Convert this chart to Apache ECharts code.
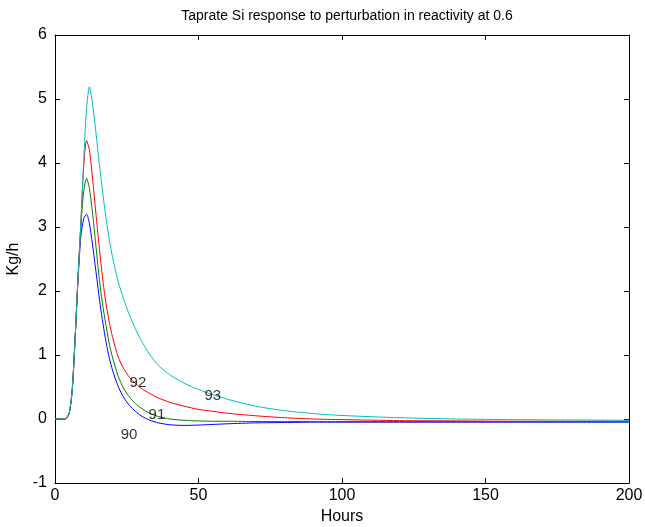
<!DOCTYPE html>
<html>
<head>
<meta charset="utf-8">
<script src="https://cdn.jsdelivr.net/npm/echarts@6/dist/echarts.min.js"></script>
<style>html,body{margin:0;padding:0;background:#fff}#c{width:645px;height:527px}</style>
</head>
<body>
<div id="c"></div>
<script>
const hours = [0,2,3,4,5,6,7,8,9,10,11,12,13,14,15,16,17,18,19,20,22,24,26,28,30,33,36,40,45,50,55,60,70,80,90,100,120,140,160,180,200];
const s90 = [0,0,0,0.01,0.1,0.45,1.25,2.15,2.85,3.13,3.2,3.05,2.75,2.4,2.04,1.7,1.41,1.15,0.94,0.77,0.51,0.33,0.21,0.12,0.05,-0.02,-0.06,-0.09,-0.1,-0.095,-0.085,-0.075,-0.06,-0.055,-0.05,-0.05,-0.05,-0.05,-0.05,-0.05,-0.05];
const s91 = [0,0,0,0.01,0.1,0.45,1.25,2.2,3.0,3.55,3.76,3.6,3.25,2.82,2.37,1.98,1.67,1.4,1.16,0.97,0.67,0.47,0.34,0.24,0.17,0.09,0.04,0.0,-0.02,-0.03,-0.035,-0.035,-0.04,-0.04,-0.04,-0.04,-0.04,-0.04,-0.04,-0.04,-0.04];
const s92 = [0,0,0,0.01,0.1,0.45,1.25,2.2,3.05,3.95,4.35,4.2,3.8,3.33,2.87,2.43,2.05,1.74,1.49,1.29,0.97,0.78,0.65,0.56,0.48,0.4,0.33,0.26,0.2,0.15,0.12,0.09,0.05,0.02,0.0,-0.01,-0.025,-0.03,-0.035,-0.035,-0.035];
const s93 = [0,0,0,0.01,0.1,0.45,1.25,2.2,3.05,4.05,4.85,5.19,4.95,4.58,4.17,3.77,3.4,3.07,2.78,2.54,2.15,1.86,1.62,1.41,1.23,1.01,0.84,0.69,0.56,0.46,0.38,0.31,0.2,0.13,0.085,0.055,0.02,0.0,-0.01,-0.015,-0.02];
const seriesNames = ['90','91','92','93'];
const labelX = [25.8, 35.5, 28.9, 55.0];
const labelY = [-0.25, 0.06, 0.56, 0.36];
const yTicks = [-1,0,1,2,3,4,5,6];
const xTicks = [0,50,100,150,200];

const colors = ['#0000ff','#008000','#ff0000','#00bfbf'];
const allS = [s90,s91,s92,s93];
const font = 'Liberation Sans, Arial, Helvetica, sans-serif';

const chart = echarts.init(document.getElementById('c'));
const lineSeries = allS.map((s,i)=>({
  type:'line', name: seriesNames[i], xAxisIndex:0, yAxisIndex:0,
  data: hours.map((h,j)=>[h,s[j]]),
  showSymbol:false, smooth:0.25,
  lineStyle:{color:colors[i], width:1}, itemStyle:{color:colors[i]},
  z:2, silent:true, animation:false
}));
const labelSeries = {
  type:'scatter', xAxisIndex:0, yAxisIndex:0, symbolSize:0, silent:true, animation:false,
  data: seriesNames.map((n,i)=>({value:[labelX[i],labelY[i]], name:n})),
  label:{show:true, position:'inside', formatter:p=>p.name, color:'#000', fontSize:15, fontFamily:font},
  z:5
};
const axBase = {
  axisLine:{show:true, onZero:false, lineStyle:{color:'#000', width:1}},
  axisTick:{show:true, inside:true, length:5, lineStyle:{color:'#000'}},
  splitLine:{show:false}
};
chart.setOption({
  animation:false,
  backgroundColor:'#fff',
  title:{text:'Taprate Si response to perturbation in reactivity at 0.6', left:342, top:4, textAlign:'center',
    textStyle:{fontSize:14, fontWeight:'normal', color:'#000', fontFamily:font}},
  grid:{left:55, right:16, top:35, bottom:44, containLabel:false, outerBoundsMode:'none'},
  xAxis:[
    Object.assign({}, axBase, {type:'value', position:'bottom', min:xTicks[0], max:xTicks[xTicks.length-1], interval:50,
      name:'Hours', nameLocation:'middle', nameGap:26, nameTextStyle:{fontSize:16, color:'#000', fontFamily:font},
      axisLabel:{show:true, color:'#000', fontSize:16, margin:5, fontFamily:font}}),
    Object.assign({}, axBase, {type:'value', position:'top', min:xTicks[0], max:xTicks[xTicks.length-1], interval:50,
      axisLabel:{show:false}})
  ],
  yAxis:[
    Object.assign({}, axBase, {type:'value', position:'left', min:yTicks[0], max:yTicks[yTicks.length-1], interval:1,
      name:'Kg/h', nameLocation:'middle', nameGap:32, nameRotate:90, nameTextStyle:{fontSize:16, color:'#000', fontFamily:font},
      axisLabel:{show:true, color:'#000', fontSize:16, margin:8, fontFamily:font}}),
    Object.assign({}, axBase, {type:'value', position:'right', min:yTicks[0], max:yTicks[yTicks.length-1], interval:1,
      axisLabel:{show:false}})
  ],
  series: lineSeries.concat([labelSeries])
});
</script>
</body>
</html>
